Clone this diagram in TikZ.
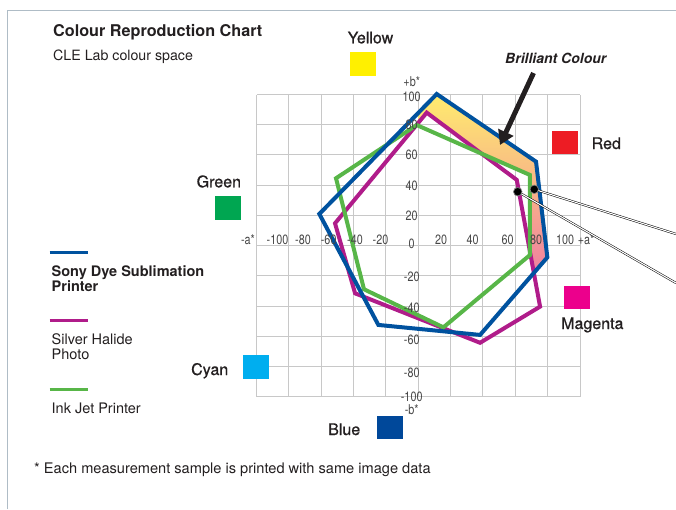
\documentclass[tikz,border=0pt]{standalone}
\usepackage{fontspec}
\setmainfont{TeX Gyre Heros}
\newfontfamily\axisfont[FakeStretch=0.8]{TeX Gyre Heros}
\newfontfamily\swatchfont[FakeBold=0.8]{TeX Gyre Heros}
\usetikzlibrary{arrows.meta}

\definecolor{inkgray}{RGB}{35,31,32}
\definecolor{axisgray}{RGB}{70,70,70}
\definecolor{gridgray}{RGB}{200,200,200}
\definecolor{framegray}{RGB}{175,188,198}
\definecolor{sonyblue}{RGB}{0,82,159}
\definecolor{halide}{RGB}{176,28,138}
\definecolor{inkjet}{RGB}{88,182,72}
\definecolor{swyellow}{RGB}{255,240,0}
\definecolor{swred}{RGB}{237,28,36}
\definecolor{swgreen}{RGB}{0,166,81}
\definecolor{swmagenta}{RGB}{236,0,140}
\definecolor{swcyan}{RGB}{0,174,239}
\definecolor{swblue}{RGB}{0,72,154}
\definecolor{fillyellow}{RGB}{255,236,110}
\definecolor{fillpeach}{RGB}{252,192,150}
\definecolor{fillpink}{RGB}{240,128,160}

\begin{document}
\begin{tikzpicture}[x=1pt,y=-1pt,inner sep=0pt,text=inkgray]
    \tikzstyle{swatch}=[rectangle,minimum width=26pt,minimum height=23.5pt,inner sep=0pt]
    \tikzstyle{swatch label}=[anchor=base west,font=\swatchfont\fontsize{16}{18}\selectfont]
    \tikzstyle{legend text}=[anchor=north west,align=left,font=\fontsize{14.5}{15.5}\selectfont]
    \tikzstyle{legend line}=[line width=3pt]
    \tikzstyle{axis label}=[font=\axisfont\fontsize{13.5}{14}\selectfont,text=axisgray]
    \tikzstyle{gamut}=[line width=4pt,line join=miter]
    \tikzstyle{grid line}=[draw=gridgray,line width=1pt]
    \tikzstyle{dot}=[circle,fill=black,draw=gray,line width=0.7pt,minimum size=8.5pt,inner sep=0pt]
    \tikzstyle{leader}=[draw=black,double=white,line width=0.5pt,double distance=1.1pt]

    \useasboundingbox (0,0) rectangle (676,509);

    % Frame
    \draw[framegray,line width=1pt] (7.5,509) |- (676,10.5);

    % Title
    \node[anchor=base west,font=\bfseries\fontsize{16.2}{18}\selectfont] (title) at (53,36.7) {Colour Reproduction Chart};
    \node[anchor=base west,font=\fontsize{14.2}{16}\selectfont] (subtitle) at (53,60) {CLE Lab colour space};

    % Draw the chart in a*/b* units
    \begin{scope}[shift={(418.3,245.7)},x=1.617pt,y=1.512pt]
        \foreach \v in {-100,-80,...,100} {
            \draw[grid line] (\v,-100) -- (\v,100);
            \draw[grid line] (-100,\v) -- (100,\v);
        }

        % Brilliant colour area
        \shade[top color=fillyellow,middle color=fillpeach,bottom color=fillpink]
            (0,87.9) -- (11.4,100.3) -- (72.8,55.6) -- (79.8,-7.7) -- (71.5,-17.9)
            -- (69,-3.6) -- (69,46.8) -- (39.2,61.0) -- (5.2,88) -- (0,81.3) -- cycle;

        % Gamuts
        \draw[gamut,halide] (5.2,88) -- (60.9,43.5) -- (75.3,-40.3) -- (38.2,-64.2)
            -- (-39.1,-31.5) -- (-51.5,14.8) -- cycle;
        \draw[gamut,inkjet] (-1,79.8) -- (69,46.8) -- (69,-6.2) -- (15.5,-54)
            -- (-33.6,-28.8) -- (-50.9,44.6) -- cycle;
        \draw[gamut,sonyblue] (11.4,100.3) -- (72.8,55.6) -- (79.8,-7.7) -- (38.2,-59)
            -- (-24.7,-52.4) -- (-61.2,21) -- cycle;

        \coordinate (dotA) at (71.7,37.3);
        \coordinate (dotB) at (61.5,35.7);
    \end{scope}

    % Axis labels
    \foreach \x/\t in {248/-a*,277.5/-100,303/-80,328.7/-60,355/-40,380.5/-20,
                       441/20,472.5/40,507.5/60,536/80,565/100,586/+a*}
        \node[axis label] at (\x,240) {\t};
    \foreach \y/\t in {81.7/+b*,96.7/100,125/80,155/60,185.7/40,216/20,244/0,
                       276.7/-20,308.3/-40,340/-60,373.3/-80,396.7/-100,410/-b*}
        \node[axis label] at (411.7,\y) {\t};

    % Leader lines
    \coordinate (edgeA) at (676,234);
    \coordinate (edgeB) at (676,283);
    \draw[leader] (dotA) -- (edgeA);
    \draw[leader] (dotB) -- (edgeB);
    \node[dot] (dotAmark) at (dotA) {};
    \node[dot] (dotBmark) at (dotB) {};

    % Brilliant colour pointer
    \node[anchor=base west,font=\bfseries\itshape\fontsize{14}{16}\selectfont] (brill) at (505,63.3) {Brilliant Colour};
    \coordinate (arrowtail) at (533.5,73);
    \coordinate (arrowtip) at (500,145);
    \draw[inkgray,line width=5pt,-{Triangle[length=14pt,width=16pt]}] (arrowtail) -- (arrowtip);

    % Colour swatches
    \node[swatch,fill=swyellow] (yellowsq) at (363,64) {};
    \node[swatch,fill=swred] (redsq) at (564.8,142.7) {};
    \node[swatch,fill=swgreen] (greensq) at (228,208) {};
    \node[swatch,fill=swmagenta] (magentasq) at (577,297.7) {};
    \node[swatch,fill=swcyan] (cyansq) at (256,367) {};
    \node[swatch,fill=swblue] (bluesq) at (390,427.7) {};

    \node[swatch label] (yellowlab) at (347.5,43.3) {Yellow};
    \node[swatch label] (redlab) at (591.5,149) {Red};
    \node[swatch label] (greenlab) at (196.5,187.3) {Green};
    \node[swatch label] (magentalab) at (561,329) {Magenta};
    \node[swatch label] (cyanlab) at (191,375) {Cyan};
    \node[swatch label] (bluelab) at (328,435) {Blue};

    % Legend
    \draw[legend line,sonyblue] (49.5,252.3) -- (87.7,252.3);
    \node[legend text,font=\bfseries\fontsize{14.5}{15}\selectfont] (sony) at (51.5,265) {Sony Dye Sublimation\\Printer};
    \draw[legend line,halide] (49.5,320.7) -- (87.7,320.7);
    \node[legend text] (silver) at (51.5,333.3) {Silver Halide\\Photo};
    \draw[legend line,inkjet] (49.5,389.7) -- (87.7,389.7);
    \node[legend text] (inkjettext) at (51.5,403) {Ink Jet Printer};

    % Footnote
    \node[anchor=base west,font=\fontsize{14.6}{16}\selectfont] (note) at (34,473) {* Each measurement sample is printed with same image data};
\end{tikzpicture}
\end{document}
